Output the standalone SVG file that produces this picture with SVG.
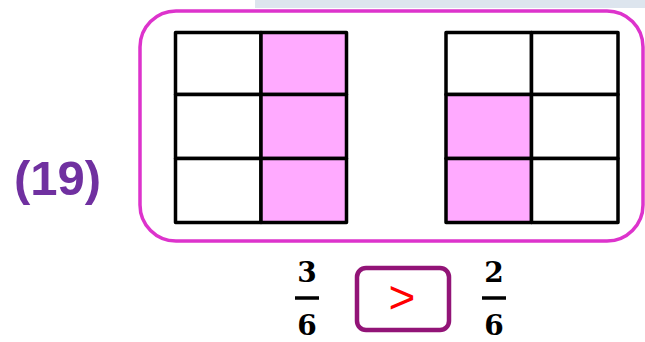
<svg xmlns="http://www.w3.org/2000/svg" width="645" height="342" viewBox="0 0 645 342">
<style>
.frame{fill:#fff;stroke:#dd33cc;stroke-width:3.5}
.cell{stroke:#000;stroke-width:3.5;stroke-linejoin:round}
.pink{fill:#ffaaff}
.white{fill:#fff}
.num{font-family:"DejaVu Serif",serif;font-weight:bold;font-size:28px;fill:#000;text-anchor:middle}
.bar{stroke:#000;stroke-width:3.5}
</style>
<rect width="645" height="342" fill="#fff"/>
<g id="watermark">
<rect x="255" y="0" width="390" height="8" fill="#dde5ee"/>
</g>
<g id="label">
<text x="14" y="195" font-family="Liberation Sans,Arial,sans-serif" font-weight="bold" font-size="49" fill="#7030a0">(19)</text>
</g>
<g id="frame">
<rect class="frame" x="140" y="11" width="503" height="230" rx="36" ry="36"/>
</g>
<g id="grid-left">
<rect class="cell white" x="175.5" y="32.5" width="85.5" height="62"/>
<rect class="cell pink" x="261" y="32.5" width="85.5" height="62"/>
<rect class="cell white" x="175.5" y="94.5" width="85.5" height="64"/>
<rect class="cell pink" x="261" y="94.5" width="85.5" height="64"/>
<rect class="cell white" x="175.5" y="158.5" width="85.5" height="64"/>
<rect class="cell pink" x="261" y="158.5" width="85.5" height="64"/>
</g>
<g id="grid-right">
<rect class="cell white" x="446" y="32.5" width="85.5" height="62"/>
<rect class="cell white" x="531.5" y="32.5" width="86.5" height="62"/>
<rect class="cell pink" x="446" y="94.5" width="85.5" height="64"/>
<rect class="cell white" x="531.5" y="94.5" width="86.5" height="64"/>
<rect class="cell pink" x="446" y="158.5" width="85.5" height="64"/>
<rect class="cell white" x="531.5" y="158.5" width="86.5" height="64"/>
</g>
<g id="fraction-left">
<text class="num" x="307" y="282">3</text>
<line class="bar" x1="295" y1="298" x2="319" y2="298"/>
<text class="num" x="307" y="335">6</text>
</g>
<g id="compare-box">
<rect x="357" y="268" width="92" height="62" rx="9" ry="9" fill="none" stroke="#921477" stroke-width="4.5"/>
<text x="402" y="313" font-family="Liberation Sans,Arial,sans-serif" font-size="46" fill="#ff0000" text-anchor="middle">&gt;</text>
</g>
<g id="fraction-right">
<text class="num" x="494" y="282">2</text>
<line class="bar" x1="482" y1="298" x2="506" y2="298"/>
<text class="num" x="494" y="335">6</text>
</g>
<g id="connectors"/>
</svg>
